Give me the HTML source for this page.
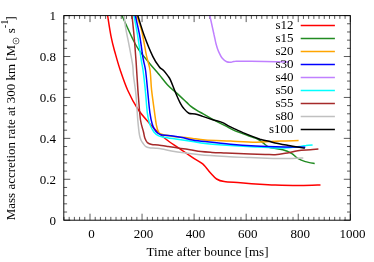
<!DOCTYPE html>
<html><head><meta charset="utf-8"><title>plot</title>
<style>
html,body{margin:0;padding:0;background:#fff;}
body{width:374px;height:262px;overflow:hidden;font-family:"Liberation Serif",serif;}
svg{display:block;}
text{font-family:"Liberation Serif",serif;font-size:13px;fill:#000;}
svg{will-change:transform;}
</style></head><body>
<svg width="374" height="262" viewBox="0 0 374 262">
<rect x="0" y="0" width="374" height="262" fill="#fff"/>
<defs><clipPath id="c"><rect x="63.8" y="15.6" width="286.5" height="204.6"/></clipPath></defs>
<path d="M63.97,220.20v-3.30M63.97,15.60v3.30M69.18,220.20v-3.30M69.18,15.60v3.30M74.38,220.20v-3.30M74.38,15.60v3.30M79.59,220.20v-3.30M79.59,15.60v3.30M84.79,220.20v-3.30M84.79,15.60v3.30M90.00,220.20v-6.50M90.00,15.60v6.50M95.21,220.20v-3.30M95.21,15.60v3.30M100.41,220.20v-3.30M100.41,15.60v3.30M105.62,220.20v-3.30M105.62,15.60v3.30M110.82,220.20v-3.30M110.82,15.60v3.30M116.03,220.20v-3.30M116.03,15.60v3.30M121.24,220.20v-3.30M121.24,15.60v3.30M126.44,220.20v-3.30M126.44,15.60v3.30M131.65,220.20v-3.30M131.65,15.60v3.30M136.85,220.20v-3.30M136.85,15.60v3.30M142.06,220.20v-6.50M142.06,15.60v6.50M147.27,220.20v-3.30M147.27,15.60v3.30M152.47,220.20v-3.30M152.47,15.60v3.30M157.68,220.20v-3.30M157.68,15.60v3.30M162.88,220.20v-3.30M162.88,15.60v3.30M168.09,220.20v-3.30M168.09,15.60v3.30M173.30,220.20v-3.30M173.30,15.60v3.30M178.50,220.20v-3.30M178.50,15.60v3.30M183.71,220.20v-3.30M183.71,15.60v3.30M188.91,220.20v-3.30M188.91,15.60v3.30M194.12,220.20v-6.50M194.12,15.60v6.50M199.33,220.20v-3.30M199.33,15.60v3.30M204.53,220.20v-3.30M204.53,15.60v3.30M209.74,220.20v-3.30M209.74,15.60v3.30M214.94,220.20v-3.30M214.94,15.60v3.30M220.15,220.20v-3.30M220.15,15.60v3.30M225.36,220.20v-3.30M225.36,15.60v3.30M230.56,220.20v-3.30M230.56,15.60v3.30M235.77,220.20v-3.30M235.77,15.60v3.30M240.97,220.20v-3.30M240.97,15.60v3.30M246.18,220.20v-6.50M246.18,15.60v6.50M251.39,220.20v-3.30M251.39,15.60v3.30M256.59,220.20v-3.30M256.59,15.60v3.30M261.80,220.20v-3.30M261.80,15.60v3.30M267.00,220.20v-3.30M267.00,15.60v3.30M272.21,220.20v-3.30M272.21,15.60v3.30M277.42,220.20v-3.30M277.42,15.60v3.30M282.62,220.20v-3.30M282.62,15.60v3.30M287.83,220.20v-3.30M287.83,15.60v3.30M293.03,220.20v-3.30M293.03,15.60v3.30M298.24,220.20v-6.50M298.24,15.60v6.50M303.45,220.20v-3.30M303.45,15.60v3.30M308.65,220.20v-3.30M308.65,15.60v3.30M313.86,220.20v-3.30M313.86,15.60v3.30M319.06,220.20v-3.30M319.06,15.60v3.30M324.27,220.20v-3.30M324.27,15.60v3.30M329.48,220.20v-3.30M329.48,15.60v3.30M334.68,220.20v-3.30M334.68,15.60v3.30M339.89,220.20v-3.30M339.89,15.60v3.30M345.09,220.20v-3.30M345.09,15.60v3.30M350.30,220.20v-6.50M350.30,15.60v6.50M63.80,220.20h6.50M350.30,220.20h-6.50M63.80,212.02h3.30M350.30,212.02h-3.30M63.80,203.83h3.30M350.30,203.83h-3.30M63.80,195.65h3.30M350.30,195.65h-3.30M63.80,187.46h3.30M350.30,187.46h-3.30M63.80,179.28h6.50M350.30,179.28h-6.50M63.80,171.10h3.30M350.30,171.10h-3.30M63.80,162.91h3.30M350.30,162.91h-3.30M63.80,154.73h3.30M350.30,154.73h-3.30M63.80,146.54h3.30M350.30,146.54h-3.30M63.80,138.36h6.50M350.30,138.36h-6.50M63.80,130.18h3.30M350.30,130.18h-3.30M63.80,121.99h3.30M350.30,121.99h-3.30M63.80,113.81h3.30M350.30,113.81h-3.30M63.80,105.62h3.30M350.30,105.62h-3.30M63.80,97.44h6.50M350.30,97.44h-6.50M63.80,89.26h3.30M350.30,89.26h-3.30M63.80,81.07h3.30M350.30,81.07h-3.30M63.80,72.89h3.30M350.30,72.89h-3.30M63.80,64.70h3.30M350.30,64.70h-3.30M63.80,56.52h6.50M350.30,56.52h-6.50M63.80,48.34h3.30M350.30,48.34h-3.30M63.80,40.15h3.30M350.30,40.15h-3.30M63.80,31.97h3.30M350.30,31.97h-3.30M63.80,23.78h3.30M350.30,23.78h-3.30M63.80,15.60h6.50M350.30,15.60h-6.50" stroke="#000" stroke-width="0.65" fill="none"/>
<g clip-path="url(#c)" fill="none" stroke-width="1.5" stroke-linejoin="round">
<path d="M107.6,15.5 C108.2,19.2 110.0,31.5 111.3,37.7 C112.5,43.9 113.6,47.4 115.1,52.8 C116.6,58.2 118.1,63.8 120.2,70.0 C122.3,76.2 124.8,83.7 127.7,90.2 C130.6,96.7 134.2,103.5 137.8,109.0 C141.4,114.5 145.5,118.8 149.1,122.9 C152.7,127.0 156.2,130.7 159.5,133.8 C162.8,136.9 165.9,139.2 169.0,141.5 C172.1,143.8 174.2,145.0 178.1,147.7 C182.0,150.4 188.6,154.9 192.7,157.6 C196.8,160.3 199.8,161.4 202.7,163.9 C205.6,166.4 208.0,170.2 210.3,172.7 C212.6,175.2 214.3,177.5 216.6,179.0 C218.9,180.5 220.2,181.0 224.2,181.6 C228.2,182.2 233.9,182.3 240.5,182.8 C247.1,183.3 258.2,184.2 264.0,184.6 C269.8,185.0 269.1,184.9 275.2,185.1 C281.3,185.2 292.8,185.5 300.4,185.5 C307.9,185.5 317.1,185.1 320.5,185.0" stroke="#ff0000"/>
<path d="M122.0,15.5 C122.9,17.6 125.7,23.9 127.6,28.0 C129.5,32.1 131.3,36.3 133.2,40.0 C135.1,43.7 136.6,46.6 139.0,50.1 C141.4,53.6 144.8,57.6 147.8,61.2 C150.8,64.9 155.0,69.6 157.0,72.0 C159.0,74.4 158.2,73.4 160.0,75.6 C161.8,77.8 164.9,82.1 167.6,85.0 C170.3,87.9 173.3,90.1 176.4,92.9 C179.5,95.8 184.0,99.9 186.4,102.1 C188.8,104.3 188.8,104.7 190.6,106.1 C192.3,107.5 194.8,109.1 196.9,110.4 C199.0,111.7 200.5,112.4 203.2,113.9 C205.9,115.4 209.7,117.6 213.3,119.6 C216.9,121.6 221.4,123.9 225.0,125.7 C228.6,127.5 230.9,129.0 234.6,130.6 C238.3,132.2 243.6,134.0 247.2,135.3 C250.8,136.6 253.9,137.5 256.0,138.4 C258.1,139.3 258.8,139.8 260.0,140.6 C261.2,141.4 262.3,142.3 263.5,143.2 C264.7,144.1 266.1,145.4 267.3,146.2 C268.6,147.0 268.4,147.2 271.0,147.8 C273.6,148.4 279.3,148.9 282.7,149.8 C286.1,150.7 289.0,151.9 291.5,153.3 C294.0,154.7 295.5,157.0 297.8,158.4 C300.1,159.8 302.5,160.8 305.3,161.6 C308.1,162.4 313.1,163.2 314.7,163.5" stroke="#228b22"/>
<path d="M136.5,15.5 C137.3,17.9 139.9,23.6 141.6,30.2 C143.2,36.8 145.0,48.7 146.4,55.3 C147.8,61.9 149.1,64.2 150.0,70.0 C150.9,75.8 150.8,83.1 151.6,90.2 C152.4,97.3 153.8,107.0 154.6,112.8 C155.4,118.6 155.8,122.0 156.4,125.1 C157.0,128.2 157.5,129.9 158.3,131.4 C159.1,132.9 158.2,133.1 161.0,134.0 C163.8,134.9 170.9,136.2 175.0,136.8 C179.1,137.4 182.7,137.1 185.6,137.4 C188.5,137.7 189.3,138.0 192.6,138.4 C195.9,138.8 198.9,139.5 205.2,139.9 C211.5,140.3 222.0,140.7 230.4,141.1 C238.8,141.5 249.0,142.1 255.6,142.2 C262.2,142.3 265.8,141.7 270.0,141.5 C274.2,141.3 276.1,141.2 280.9,141.1 C285.7,140.9 295.7,140.7 298.6,140.6" stroke="#ffa500"/>
<path d="M209.8,15.5 C210.2,17.2 211.3,22.2 212.0,25.5 C212.7,28.8 213.4,31.9 214.1,35.0 C214.8,38.0 215.3,41.1 216.0,43.8 C216.7,46.5 217.4,49.0 218.5,51.4 C219.6,53.8 220.9,56.6 222.3,58.3 C223.7,60.0 225.2,61.1 226.7,61.7 C228.2,62.4 229.6,62.3 231.1,62.2 C232.6,62.1 232.2,61.4 235.5,61.3 C238.8,61.1 246.1,61.3 251.0,61.3 C255.9,61.3 258.7,61.3 265.0,61.4 C271.3,61.5 284.9,61.9 288.9,62.0" stroke="#c080ff"/>
<path d="M134.0,15.5 C134.6,18.8 136.4,27.7 137.6,35.2 C138.8,42.7 140.4,54.6 141.3,60.4 C142.2,66.2 142.3,65.0 143.0,70.0 C143.7,75.0 144.6,83.1 145.3,90.2 C146.0,97.3 146.7,107.5 147.3,112.8 C148.0,118.1 148.6,119.7 149.2,122.0 C149.8,124.3 150.1,125.1 150.9,126.8 C151.7,128.5 152.7,130.5 153.9,132.0 C155.1,133.5 156.6,134.7 158.3,135.6 C160.0,136.5 161.1,136.6 164.0,137.2 C166.9,137.8 170.8,138.3 175.6,139.0 C180.4,139.7 187.7,140.9 192.6,141.6 C197.5,142.3 198.9,142.8 205.2,143.4 C211.5,144.0 222.0,144.8 230.4,145.4 C238.8,146.0 248.2,146.6 255.6,147.0 C263.0,147.4 270.1,147.8 275.0,147.9 C279.9,148.1 282.0,148.0 285.0,147.9 C288.0,147.8 290.5,147.6 293.0,147.3 C295.5,147.1 297.6,146.7 299.8,146.4 C302.0,146.1 303.9,145.8 306.0,145.6 C308.1,145.3 311.5,145.0 312.6,144.9" stroke="#00ffff"/>
<path d="M135.3,15.5 C136.0,18.8 138.3,28.1 139.6,35.2 C140.9,42.3 142.0,52.1 143.0,57.9 C144.0,63.7 144.7,64.6 145.5,70.0 C146.3,75.4 146.9,83.1 147.6,90.2 C148.3,97.3 149.1,107.2 149.9,112.8 C150.7,118.4 151.4,121.2 152.2,124.0 C153.0,126.8 153.6,127.8 154.5,129.3 C155.4,130.8 156.2,132.0 157.5,132.9 C158.8,133.8 159.5,134.5 162.1,135.0 C164.7,135.5 169.5,135.6 172.8,136.0 C176.1,136.4 178.7,136.8 182.0,137.5 C185.3,138.2 188.7,139.2 192.6,139.9 C196.5,140.6 198.9,140.9 205.2,141.6 C211.5,142.3 222.0,143.5 230.4,144.2 C238.8,144.9 246.5,145.4 255.6,145.9 C264.7,146.4 276.9,146.7 285.2,146.9 C293.5,147.1 301.9,147.1 305.3,147.2" stroke="#0000ff"/>
<path d="M132.0,15.5 C132.3,18.8 133.3,27.7 134.0,35.2 C134.7,42.7 135.5,53.6 136.0,60.4 C136.5,67.2 136.6,70.2 137.0,76.0 C137.4,81.8 137.7,87.9 138.3,95.2 C138.9,102.5 139.6,113.9 140.5,120.0 C141.4,126.1 142.8,128.9 143.5,132.0 C144.2,135.1 144.2,136.5 144.9,138.3 C145.6,140.1 146.2,141.6 147.4,142.6 C148.6,143.6 150.0,144.1 151.8,144.5 C153.6,144.9 155.4,144.7 158.1,145.0 C160.8,145.3 164.4,145.9 168.2,146.5 C172.0,147.1 177.2,147.9 180.8,148.4 C184.4,148.9 186.6,149.2 190.0,149.7 C193.4,150.2 197.3,151.1 201.0,151.5 C204.7,151.9 207.8,152.1 212.0,152.4 C216.2,152.7 219.7,152.8 226.0,153.1 C232.3,153.3 243.5,153.7 250.0,153.9 C256.5,154.1 260.8,154.3 265.0,154.4 C269.2,154.5 271.7,154.9 275.1,154.7 C278.5,154.5 281.4,154.0 285.2,153.3 C289.0,152.7 293.6,151.4 297.8,150.8 C302.0,150.2 307.0,150.1 310.4,149.8 C313.8,149.5 317.1,149.1 318.4,149.0" stroke="#a52a2a"/>
<path d="M124.2,15.5 C124.4,17.5 124.8,22.6 125.6,27.6 C126.4,32.6 127.9,39.0 129.1,45.3 C130.3,51.6 132.0,60.3 132.7,65.4 C133.4,70.5 132.9,71.0 133.5,76.0 C134.1,81.0 135.3,87.8 136.0,95.2 C136.7,102.6 137.2,113.8 137.8,120.4 C138.4,127.1 138.9,131.8 139.5,135.1 C140.1,138.4 140.6,139.1 141.2,140.5 C141.8,141.9 142.3,142.3 143.0,143.3 C143.7,144.3 144.4,145.6 145.5,146.3 C146.6,147.0 147.6,147.4 149.3,147.7 C151.0,148.0 153.5,148.0 155.6,148.2 C157.7,148.4 158.8,148.4 161.9,149.0 C165.1,149.6 170.5,150.8 174.5,151.5 C178.5,152.2 181.8,152.5 186.0,153.1 C190.2,153.7 193.3,154.2 200.0,154.8 C206.7,155.4 217.7,156.1 226.0,156.6 C234.3,157.1 242.2,157.3 250.0,157.6 C257.8,157.9 265.9,158.2 273.0,158.4 C280.1,158.6 287.6,158.6 292.7,158.5 C297.8,158.4 301.5,158.0 303.3,157.9" stroke="#c0c0c0"/>
<path d="M137.8,15.5 C138.9,18.8 141.6,28.4 144.1,35.2 C146.6,42.1 150.4,51.4 152.9,56.6 C155.4,61.9 157.4,64.4 159.2,66.7 C161.0,69.0 162.2,69.1 163.6,70.6 C165.0,72.1 166.5,74.0 167.7,75.6 C168.8,77.2 169.2,77.2 170.5,80.1 C171.8,82.9 173.9,88.8 175.6,92.7 C177.2,96.6 179.0,100.7 180.4,103.3 C181.8,105.9 182.4,106.8 183.8,108.5 C185.2,110.2 186.9,112.3 188.8,113.2 C190.7,114.1 192.8,113.4 195.1,113.9 C197.4,114.4 199.8,115.4 202.7,116.4 C205.6,117.4 209.5,118.7 212.7,119.7 C215.9,120.7 219.4,121.4 222.0,122.4 C224.6,123.4 225.9,124.6 228.0,125.7 C230.1,126.8 231.4,127.5 234.6,128.9 C237.8,130.3 243.0,132.7 247.2,134.4 C251.4,136.1 256.4,138.0 260.0,139.2 C263.6,140.3 266.5,140.7 269.0,141.3 C271.5,141.9 271.6,142.2 275.1,143.0 C278.6,143.8 285.2,144.9 290.2,145.8 C295.1,146.7 302.4,147.9 304.8,148.3" stroke="#000000"/>
</g>
<rect x="63.8" y="15.6" width="286.5" height="204.6" fill="none" stroke="#000" stroke-width="0.95"/>
<text x="293.6" y="29.3" text-anchor="end">s12</text>
<path d="M300.7,25.5H334.9" stroke="#ff0000" stroke-width="1.3"/>
<text x="293.6" y="42.3" text-anchor="end">s15</text>
<path d="M300.7,38.5H334.9" stroke="#228b22" stroke-width="1.3"/>
<text x="293.6" y="55.3" text-anchor="end">s20</text>
<path d="M300.7,51.5H334.9" stroke="#ffa500" stroke-width="1.3"/>
<text x="293.6" y="68.3" text-anchor="end">s30</text>
<path d="M300.7,64.5H334.9" stroke="#0000ff" stroke-width="1.3"/>
<text x="293.6" y="81.3" text-anchor="end">s40</text>
<path d="M300.7,77.5H334.9" stroke="#c080ff" stroke-width="1.3"/>
<text x="293.6" y="94.3" text-anchor="end">s50</text>
<path d="M300.7,90.5H334.9" stroke="#00ffff" stroke-width="1.3"/>
<text x="293.6" y="107.3" text-anchor="end">s55</text>
<path d="M300.7,103.5H334.9" stroke="#a52a2a" stroke-width="1.3"/>
<text x="293.6" y="120.3" text-anchor="end">s80</text>
<path d="M300.7,116.5H334.9" stroke="#c0c0c0" stroke-width="1.3"/>
<text x="293.6" y="133.3" text-anchor="end">s100</text>
<path d="M300.7,129.5H334.9" stroke="#000000" stroke-width="1.3"/>
<text x="91.5" y="238" text-anchor="middle">0</text>
<text x="143.6" y="238" text-anchor="middle">200</text>
<text x="195.6" y="238" text-anchor="middle">400</text>
<text x="247.7" y="238" text-anchor="middle">600</text>
<text x="300.3" y="238" text-anchor="middle">800</text>
<text x="352.4" y="238" text-anchor="middle">1000</text>
<text x="55.9" y="224.9" text-anchor="end">0</text>
<text x="55.9" y="184.0" text-anchor="end">0.2</text>
<text x="55.9" y="143.1" text-anchor="end">0.4</text>
<text x="55.9" y="102.1" text-anchor="end">0.6</text>
<text x="55.9" y="61.2" text-anchor="end">0.8</text>
<text x="55.9" y="20.3" text-anchor="end">1</text>
<text x="146.6" y="256.1">Time after bounce [ms]</text>
<g transform="translate(14.8,220.3) rotate(-90)"><text x="0" y="0">Mass accretion rate at 300 km [M<tspan dx="11.5">s</tspan><tspan dy="-6.8" font-size="10.4">-1</tspan><tspan dy="6.8" dx="-0.9">]</tspan></text></g>
<circle cx="16" cy="41.0" r="3.0" fill="none" stroke="#000" stroke-width="0.55"/><circle cx="16" cy="41.0" r="0.7" fill="#000"/>
</svg></body></html>
